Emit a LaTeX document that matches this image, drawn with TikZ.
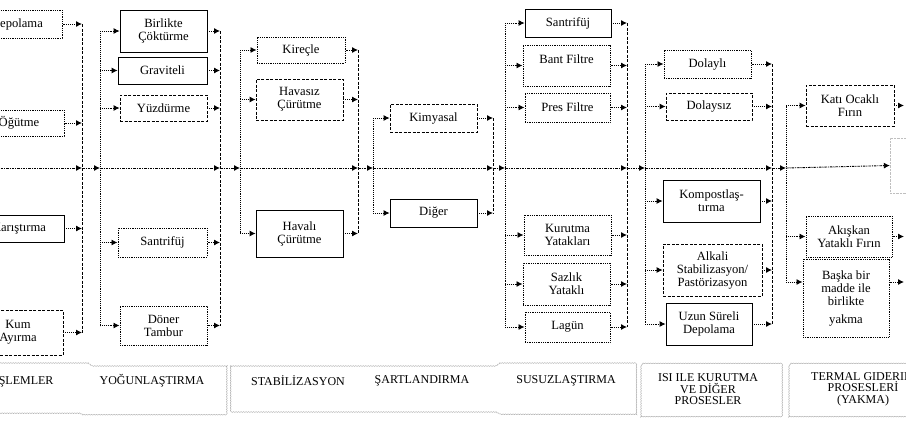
\documentclass[tikz,border=0pt]{standalone}
\usepackage{fontspec}
\setmainfont{Liberation Serif}
\usetikzlibrary{arrows.meta}
\usetikzlibrary{decorations.pathmorphing}
\tikzset{procbox/.style={draw, rectangle, line width=0.8pt, align=center, inner sep=1pt, font=\fontsize{12.6}{13}\selectfont},
         dotbox/.style={procbox, densely dotted, line width=1pt},
         dashbox/.style={procbox, dash pattern=on 3pt off 1.5pt},
         sz/.style 2 args={minimum width=#1, minimum height=#2},
         feed/.style={densely dotted, line width=0.9pt},
         collect/.style={dash pattern=on 3pt off 1.5pt, line width=1pt},
         mainline/.style={dash pattern=on 2.5pt off 1pt on 1pt off 1pt, line width=0.9pt, -{Latex[length=6pt,width=6pt]}},
         flowarrow/.style={densely dotted, line width=0.9pt, -{Latex[length=6pt,width=6pt]}},
         stagebox/.style={draw=gray!70, line width=0.4pt, decorate, decoration={snake, amplitude=0.4pt, segment length=2.5pt}},
         stagelabel/.style={font=\fontsize{12}{11.5}\selectfont, align=center}}

\begin{document}
\begin{tikzpicture}[x=1pt, y=-1pt]
    \useasboundingbox (0,0) rectangle (906,426);
    \clip (0,0) rectangle (906,426);

    % on islemler (cut at the left edge)
    \node[dotbox, sz={90}{28}] (dep) at (17,24) {Depolama};
    \node[dotbox, sz={90}{26}] (ogut) at (19,123) {Öğütme};
    \node[procbox, sz={90}{27}] (karis) at (19,228.5) {Karıştırma};
    \node[dashbox, sz={90}{45}] (kum) at (18,332.5) {Kum\\Ayırma};

    % yogunlastirma
    \node[procbox, sz={87}{42}] (birl) at (163.5,31) {Birlikte\\Çöktürme};
    \node[procbox, sz={89}{27}] (grav) at (162.5,70.5) {Graviteli};
    \node[dashbox, sz={87}{26}] (yuzd) at (163.5,108) {Yüzdürme};
    \node[dotbox, sz={89}{29}] (sant1) at (162.5,242.5) {Santrifüj};
    \node[dotbox, sz={87}{39}] (doner) at (163.5,325.5) {Döner\\Tambur};

    % stabilizasyon
    \node[dotbox, sz={88}{26}] (kirec) at (301,50) {Kireçle};
    \node[dashbox, sz={87}{41}] (havasiz) at (299.5,99.5) {Havasız\\Çürütme};
    \node[procbox, sz={87}{47}] (havali) at (299.5,233.5) {Havalı\\Çürütme};

    % sartlandirma
    \node[dashbox, sz={87}{28}] (kimya) at (433.5,118) {Kimyasal};
    \node[procbox, sz={87}{28}] (diger) at (433.5,213) {Diğer};

    % susuzlastirma
    \node[procbox, sz={86}{28}] (sant2) at (568,23) {Santrifüj};
    \node[dotbox, sz={87}{41}] (bant) at (566.5,65.5) {Bant Filtre\\\mbox{}};
    \node[dotbox, sz={85}{29}] (pres) at (567.5,107.5) {Pres Filtre};
    \node[dotbox, sz={87}{40}] (kurut) at (567.5,235) {Kurutma\\Yatakları};
    \node[dotbox, sz={87}{42}] (sazlik) at (566.5,284) {Sazlık\\Yataklı};
    \node[dotbox, sz={85}{30}] (lagun) at (567.5,327) {Lagün};

    % isi ile kurutma
    \node[dotbox, sz={87}{28}] (dolayli) at (707.5,64) {Dolaylı};
    \node[dashbox, sz={86}{27}] (dolaysiz) at (709,106.5) {Dolaysız};
    \node[procbox, sz={97}{42}] (kompost) at (711.5,201) {Kompostlaş-\\tırma};
    \node[dashbox, sz={99}{52}] (alkali) at (712.5,270) {Alkali\\Stabilizasyon/\\Pastörizasyon};
    \node[procbox, sz={86}{42}] (uzun) at (709,324) {Uzun Süreli\\Depolama};

    % termal giderim
    \node[dashbox, sz={88}{41}] (kati) at (850,105.5) {Katı Ocaklı\\Fırın};
    \node[dotbox, sz={86}{41}] (akiskan) at (849,236.5) {Akışkan\\Yataklı Fırın};
    \node[dotbox, sz={86}{78}] (baska) at (846,298) {Başka bir\\madde ile\\birlikte\\[5pt]yakma};
    \node[draw=gray!50, densely dotted, sz={60}{55}] (sonraki) at (920,165.5) {};

    % main line
    \coordinate (giris) at (-5,168);
    \coordinate (sag) at (904,0);
    \foreach \n/\x in {c1/82, d2/100, c2/220, d3/240, c3/358, d4/373, c4/493, d5/505, c5/627, d6/645, c6/772, d7/786}
        \coordinate (\n) at (\x,168);
    \foreach \a/\b in {giris/c1, c1/d2, d2/c2, c2/d3, d3/c3, c3/d4, d4/c4, c4/d5, d5/c5, c5/d6, d6/c6, c6/d7}
        \draw[mainline] (\a) -- (\b);
    \draw[mainline] (d7) -- (sonraki.west);

    % branches
    \draw[collect] (c1 |- dep.east) -- (c1 |- kum.east);
    \foreach \b in {dep, ogut, karis, kum}
        \draw[flowarrow] (\b.east) -- (c1 |- \b.east);

    \draw[feed] (d2 |- birl.west) -- (d2 |- doner.west);
    \draw[collect] (c2 |- birl.east) -- (c2 |- doner.east);
    \foreach \b in {birl, grav, yuzd, sant1, doner} {
        \draw[flowarrow] (d2 |- \b.west) -- (\b.west);
        \draw[flowarrow] (\b.east) -- (c2 |- \b.east);
    }

    \draw[feed] (d3 |- kirec.west) -- (d3 |- havali.west);
    \draw[collect] (c3 |- kirec.east) -- (c3 |- havali.east);
    \foreach \b in {kirec, havasiz, havali} {
        \draw[flowarrow] (d3 |- \b.west) -- (\b.west);
        \draw[flowarrow] (\b.east) -- (c3 |- \b.east);
    }

    \draw[feed] (d4 |- kimya.west) -- (d4 |- diger.west);
    \draw[collect] (c4 |- kimya.east) -- (c4 |- diger.east);
    \foreach \b in {kimya, diger} {
        \draw[flowarrow] (d4 |- \b.west) -- (\b.west);
        \draw[flowarrow] (\b.east) -- (c4 |- \b.east);
    }

    \draw[feed] (d5 |- sant2.west) -- (d5 |- lagun.west);
    \draw[collect] (c5 |- sant2.east) -- (c5 |- lagun.east);
    \foreach \b in {sant2, bant, pres, kurut, sazlik, lagun} {
        \draw[flowarrow] (d5 |- \b.west) -- (\b.west);
        \draw[flowarrow] (\b.east) -- (c5 |- \b.east);
    }

    \draw[feed] (d6 |- dolayli.west) -- (d6 |- uzun.west);
    \draw[collect] (c6 |- dolayli.east) -- (c6 |- uzun.east);
    \foreach \b in {dolayli, dolaysiz, kompost, alkali, uzun} {
        \draw[flowarrow] (d6 |- \b.west) -- (\b.west);
        \draw[flowarrow] (\b.east) -- (c6 |- \b.east);
    }

    \coordinate (bgir) at ([yshift=16pt]baska.west);
    \coordinate (bcik) at ([yshift=16pt]baska.east);
    \draw[feed] (d7 |- kati.west) -- (d7 |- bgir);
    \foreach \b in {kati, akiskan} {
        \draw[flowarrow] (d7 |- \b.west) -- (\b.west);
        \draw[flowarrow] (\b.east) -- (\b.east -| sag);
    }
    \draw[flowarrow] (d7 |- bgir) -- (bgir);
    \draw[flowarrow] (bcik) -- (bcik -| sag);

    % stage names
    \draw[stagebox] (-10,363) -- (88,363) -- (92,366) -- (227,366) -- (227,415) -- (84,415) -- (80,413) -- (-10,413);
    \draw[stagebox] (230,366) -- (495,366) -- (499,363) -- (635,363) -- (635,415) -- (499,415) -- (495,413) -- (230,413) -- cycle;
    \draw[stagebox] (641,365) rectangle (782,417);
    \draw[stagebox] (789,365) rectangle (915,417);
    \node[stagelabel] (onisl) at (14,381) {ÖN İŞLEMLER};
    \node[stagelabel] (yogun) at (152,381) {YOĞUNLAŞTIRMA};
    \node[stagelabel] (stab) at (298,381) {STABİLİZASYON};
    \node[stagelabel] (sart) at (422,381) {ŞARTLANDIRMA};
    \node[stagelabel] (susuz) at (566,381) {SUSUZLAŞTIRMA};
    \node[stagelabel] (isi) at (708,389.5) {ISI ILE KURUTMA\\VE DİĞER\\PROSESLER};
    \node[stagelabel] (termal) at (863,389) {TERMAL GIDERIM\\PROSESLERİ\\(YAKMA)};
\end{tikzpicture}
\end{document}
